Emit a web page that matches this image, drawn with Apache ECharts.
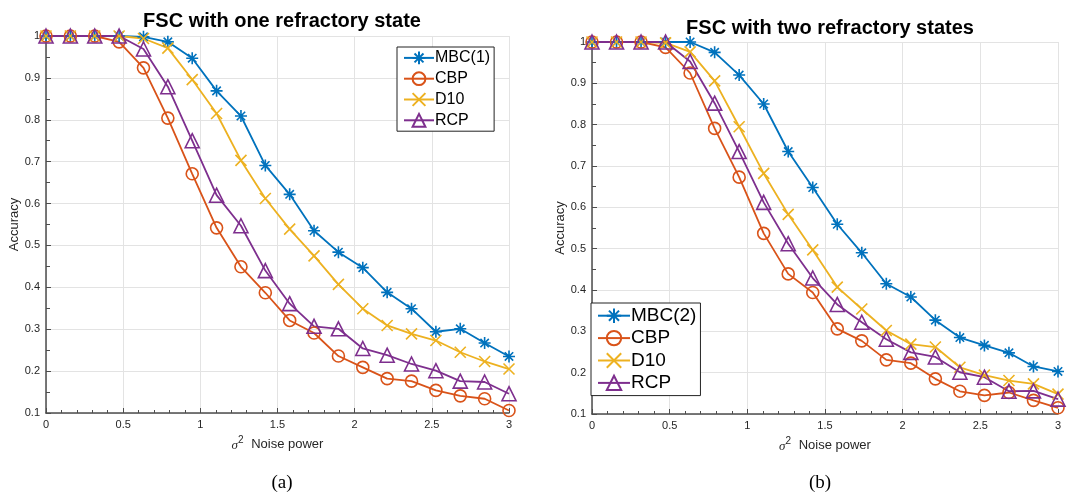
<!DOCTYPE html>
<html><head><meta charset="utf-8">
<script src="https://cdn.jsdelivr.net/npm/echarts@6/dist/echarts.min.js"></script>
<style>html,body{margin:0;padding:0;background:#fff}#c{width:1069px;height:494px}</style>
</head><body><div id="c"></div>
<script>
const noise = [0, 0.1579, 0.3158, 0.4737, 0.6316, 0.7895, 0.9474, 1.1053, 1.2632, 1.4211, 1.5789, 1.7368, 1.8947, 2.0526, 2.2105, 2.3684, 2.5263, 2.6842, 2.8421, 3];
const yTicks = [0.1, 0.2, 0.3, 0.4, 0.5, 0.6, 0.7, 0.8, 0.9, 1];
const xTicks = [0, 0.5, 1, 1.5, 2, 2.5, 3];

// (a) one refractory state
const mbc1A = [1, 1, 1, 1, 0.998, 0.986, 0.947, 0.869, 0.809, 0.691, 0.622, 0.535, 0.484, 0.447, 0.388, 0.349, 0.294, 0.301, 0.267, 0.235];
const cbpA  = [1, 1, 1, 0.986, 0.924, 0.804, 0.671, 0.542, 0.449, 0.387, 0.321, 0.291, 0.236, 0.209, 0.182, 0.176, 0.154, 0.141, 0.134, 0.106];
const d10A  = [1, 1, 1, 1, 0.994, 0.971, 0.896, 0.815, 0.703, 0.612, 0.539, 0.475, 0.407, 0.349, 0.309, 0.289, 0.273, 0.245, 0.223, 0.205];
const rcpA  = [1, 1, 1, 1, 0.969, 0.879, 0.750, 0.620, 0.547, 0.440, 0.361, 0.307, 0.301, 0.254, 0.238, 0.217, 0.201, 0.176, 0.174, 0.146];

// (b) two refractory states
const mbc2B = [1, 1, 1, 1, 1, 0.975, 0.920, 0.850, 0.735, 0.648, 0.559, 0.490, 0.415, 0.383, 0.327, 0.285, 0.266, 0.248, 0.215, 0.203];
const cbpB  = [1, 1, 1, 0.987, 0.925, 0.791, 0.673, 0.537, 0.439, 0.394, 0.306, 0.277, 0.231, 0.223, 0.185, 0.155, 0.145, 0.152, 0.133, 0.115];
const d10B  = [1, 1, 1, 0.998, 0.976, 0.906, 0.795, 0.682, 0.583, 0.497, 0.407, 0.354, 0.302, 0.269, 0.262, 0.213, 0.194, 0.181, 0.173, 0.148];
const rcpB  = [1, 1, 1, 1, 0.953, 0.852, 0.735, 0.612, 0.512, 0.429, 0.365, 0.322, 0.281, 0.249, 0.238, 0.201, 0.189, 0.155, 0.156, 0.136];

const C = {mbc:'#0072BD', cbp:'#D95319', d10:'#EDB120', rcp:'#7E2F8E'};
const ASTER = 'path://M0,5L10,5M5,0L5,10M1.5,1.5L8.5,8.5M8.5,1.5L1.5,8.5';
const XMARK = 'path://M0,0L10,10M10,0L0,10';
const SYM = {mbc:[ASTER,12], cbp:['circle',12], d10:[XMARK,11], rcp:['triangle',14]};

function pair(xs, ys){ return xs.map((x,i)=>[x, ys[i]]); }
function mk(name, key, ys, idx){
  return {
    name, type:'line', xAxisIndex:idx, yAxisIndex:idx,
    data: pair(noise, ys),
    symbol: SYM[key][0], symbolSize: SYM[key][1], showAllSymbol:true,
    lineStyle:{color:C[key], width:1.8},
    itemStyle:{color:'none', borderColor:C[key], borderWidth:1.6},
    emphasis:{disabled:true}, animation:false, z:3
  };
}
const fmt = v => String(+v.toFixed(2));
function xAx(idx){
  return {
    type:'value', gridIndex:idx, min:0, max:3, interval:0.5,
    name:'{s|σ}{p|2} Noise power', nameLocation:'middle', nameGap:22,
    nameTextStyle:{color:'#262626', fontSize:13, fontFamily:'Liberation Sans',
      rich:{s:{fontStyle:'italic', fontSize:13, fontFamily:'Liberation Serif', color:'#262626', padding:[4,0,0,0]},
            p:{fontSize:10, color:'#262626', padding:[0,4,8,0]}}},
    axisLine:{show:true, onZero:false, lineStyle:{color:'#4d4d4d', width:1.5}},
    axisTick:{show:true, inside:true, length:5, lineStyle:{color:'#4d4d4d'}},
    minorTick:{show:true, splitNumber:5, length:3, lineStyle:{color:'#4d4d4d'}},
    axisLabel:{color:'#262626', fontSize:11, fontFamily:'Liberation Sans', margin:6, formatter:fmt},
    splitLine:{show:true, lineStyle:{color:'#e3e3e3', width:1}}
  };
}
function yAx(idx){
  return {
    type:'value', gridIndex:idx, min:0.1, max:1, interval:0.1,
    name:'Accuracy', nameLocation:'middle', nameGap:24,
    nameTextStyle:{color:'#262626', fontSize:13, fontFamily:'Liberation Sans'},
    axisLine:{show:true, onZero:false, lineStyle:{color:'#4d4d4d', width:1.5}},
    axisTick:{show:true, inside:true, length:5, lineStyle:{color:'#4d4d4d'}},
    minorTick:{show:true, splitNumber:2, length:4, lineStyle:{color:'#4d4d4d'}},
    axisLabel:{color:'#262626', fontSize:11, fontFamily:'Liberation Sans', margin:6, formatter:fmt},
    splitLine:{show:true, lineStyle:{color:'#e3e3e3', width:1}}
  };
}

const chart = echarts.init(document.getElementById('c'), null, {renderer:'canvas'});
chart.setOption({
  backgroundColor:'#fff',
  animation:false,
  title:[
    {text:'FSC with one refractory state', left:277, top:6, textAlign:'center',
     textStyle:{fontSize:20, fontWeight:'bold', color:'#000', fontFamily:'Liberation Sans'}},
    {text:'FSC with two refractory states', left:825, top:13, textAlign:'center',
     textStyle:{fontSize:20, fontWeight:'bold', color:'#000', fontFamily:'Liberation Sans'}},
    {text:'(a)', left:277, top:469, textAlign:'center',
     textStyle:{fontSize:19, fontWeight:'normal', color:'#000', fontFamily:'Liberation Serif'}},
    {text:'(b)', left:815, top:469, textAlign:'center',
     textStyle:{fontSize:19, fontWeight:'normal', color:'#000', fontFamily:'Liberation Serif'}}
  ],
  grid:[
    {left:46, top:36, width:463, height:377},
    {left:592, top:42, width:466, height:372}
  ],
  xAxis:[xAx(0), xAx(1)],
  yAxis:[yAx(0), yAx(1)],
  legend:[
    {data:['MBC(1)','CBP','D10','RCP'], orient:'vertical', left:397, top:47,
     itemWidth:30, itemHeight:16, itemGap:3, padding:[2,4,2,6], borderColor:'#222', borderWidth:1,
     backgroundColor:'#fff', textStyle:{fontSize:16, color:'#000', fontFamily:'Liberation Sans', padding:[0,0,0,-4]},
     selectedMode:false, z:10},
    {data:['MBC(2)','CBP','D10','RCP'], orient:'vertical', left:591, top:303,
     itemWidth:32, itemHeight:18, itemGap:3, padding:[3,4,3,6], borderColor:'#222', borderWidth:1,
     backgroundColor:'#fff', textStyle:{fontSize:19, color:'#000', fontFamily:'Liberation Sans', padding:[0,0,0,-4]},
     selectedMode:false, z:10}
  ],
  series:[
    mk('MBC(1)','mbc',mbc1A,0), mk('CBP','cbp',cbpA,0), mk('D10','d10',d10A,0), mk('RCP','rcp',rcpA,0),
    mk('MBC(2)','mbc',mbc2B,1), mk('CBP','cbp',cbpB,1), mk('D10','d10',d10B,1), mk('RCP','rcp',rcpB,1)
  ]
});
</script></body></html>
